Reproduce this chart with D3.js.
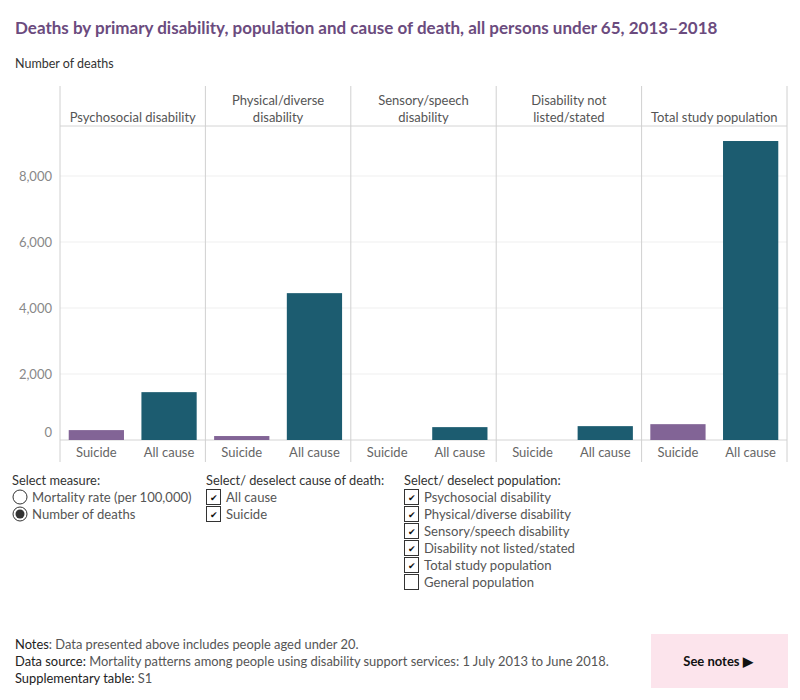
<!DOCTYPE html>
<html><head><meta charset="utf-8">
<script src="https://cdn.jsdelivr.net/npm/d3@7"></script>
<style>
body{margin:0;background:#fff;}
svg text{font-family:Lato, "Open Sans", sans-serif;}
</style></head>
<body><svg id="c" width="800" height="700"></svg>
<script>
const panels = ["Psychosocial disability","Physical/diverse disability","Sensory/speech disability","Disability not listed/stated","Total study population"];
const panelHeaderLines = [["Psychosocial disability"],["Physical/diverse","disability"],["Sensory/speech","disability"],["Disability not","listed/stated"],["Total study population"]];
const causes = ["Suicide","All cause"];
const suicideDeaths = [300, 120, 0, 0, 480];
const allCauseDeaths = [1450, 4450, 390, 420, 9060];
const yTicks = [0, 2000, 4000, 6000, 8000];
const measureOptions = ["Mortality rate (per 100,000)","Number of deaths"];
const causeOptions = ["All cause","Suicide"];
const populationOptions = ["Psychosocial disability","Physical/diverse disability","Sensory/speech disability","Disability not listed/stated","Total study population","General population"];
const populationChecked = [true,true,true,true,true,false];

(function(){
const svg = d3.select("#c");
const purple = "#826496", teal = "#1c5c70";

svg.append("text").attr("x",15).attr("y",34).text("Deaths by primary disability, population and cause of death, all persons under 65, 2013\u20132018")
  .attr("fill","#6b4b7e").attr("font-weight","bold").attr("font-size",17);
svg.append("text").attr("x",15).attr("y",68).text("Number of deaths").attr("fill","#333").attr("font-size",12.5);

const pLeft=60, pRight=787, pTop=126, pBottom=440, headTop=86, labBottom=462;
const y = d3.scaleLinear().domain([0, 9515]).range([pBottom, pTop]);
const px = d3.scaleBand().domain(panels).range([pLeft,pRight]);
const cx = d3.scaleBand().domain(causes).range([0, px.bandwidth()]).paddingInner(0.24).paddingOuter(0.12);

svg.append("g").selectAll("line").data(yTicks.filter(d=>d>0)).join("line")
  .attr("x1",pLeft).attr("x2",pRight).attr("y1",d=>y(d)).attr("y2",d=>y(d))
  .attr("stroke","#efefef");
const yAxis = d3.axisLeft(y).tickValues(yTicks).tickFormat(d3.format(",")).tickSize(0).tickPadding(8);
const ya = svg.append("g").attr("transform",`translate(${pLeft},0)`).call(yAxis);
ya.select(".domain").remove();
ya.selectAll("text").attr("fill","#888").attr("font-size",13).attr("font-family","Lato, sans-serif")
  .attr("dy",d=>d===0?"-0.3em":"0.32em");

svg.append("line").attr("x1",pLeft).attr("x2",pRight).attr("y1",pTop).attr("y2",pTop).attr("stroke","#d4d4d4");
svg.append("line").attr("x1",pLeft).attr("x2",pRight).attr("y1",pBottom).attr("y2",pBottom).attr("stroke","#d4d4d4");
svg.append("g").selectAll("line").data(d3.range(panels.length+1)).join("line")
  .attr("x1",i=>i<panels.length?px(panels[i]):pRight).attr("x2",i=>i<panels.length?px(panels[i]):pRight)
  .attr("y1",headTop).attr("y2",labBottom).attr("stroke","#d0d0d0");

panels.forEach((p,i)=>{
  const lines = panelHeaderLines[i];
  const g = svg.append("text").attr("text-anchor","middle").attr("fill","#555").attr("font-size",13);
  lines.forEach((l,j)=>{
    g.append("tspan").attr("x",px(p)+px.bandwidth()/2).attr("y",122-(lines.length-1-j)*17).text(l);
  });
});

const rows = panels.map((p,i)=>({panel:p, vals:[{c:"Suicide",v:suicideDeaths[i]},{c:"All cause",v:allCauseDeaths[i]}]}));
const pg = svg.append("g").selectAll("g").data(rows).join("g").attr("transform",d=>`translate(${px(d.panel)},0)`);
pg.selectAll("rect").data(d=>d.vals.filter(v=>v.v>0)).join("rect")
  .attr("x",d=>cx(d.c)).attr("width",cx.bandwidth())
  .attr("y",d=>y(d.v)).attr("height",d=>pBottom-y(d.v))
  .attr("fill",d=>d.c==="Suicide"?purple:teal);
pg.selectAll("text").data(causes).join("text")
  .attr("x",d=>cx(d)+cx.bandwidth()/2).attr("y",457).attr("text-anchor","middle")
  .attr("fill","#666").attr("font-size",13).text(d=>d);

const ctl = (x,yy,t)=>svg.append("text").attr("x",x).attr("y",yy).attr("fill","#333").attr("font-size",12.8).text(t);
ctl(12,485,"Select measure:");
ctl(206,485,"Select/ deselect cause of death:");
ctl(404,485,"Select/ deselect population:");
measureOptions.forEach((m,i)=>{
  const yy = 497+i*17;
  svg.append("circle").attr("cx",20).attr("cy",yy).attr("r",7).attr("fill","#fff").attr("stroke","#333").attr("stroke-width",1);
  if(i===1) svg.append("circle").attr("cx",20).attr("cy",yy).attr("r",4.5).attr("fill","#333");
  svg.append("text").attr("x",32).attr("y",yy+4.5).attr("fill","#555").attr("font-size",13.1).text(m);
});
function checkbox(x,yy,checked,label){
  svg.append("rect").attr("x",x+0.5).attr("y",yy-7.5).attr("width",14).attr("height",15).attr("fill","#fff").attr("stroke","#333");
  if(checked) svg.append("text").attr("x",x+7.5).attr("y",yy+3.5).attr("text-anchor","middle").attr("font-size",9).attr("fill","#111").text("\u2714");
  svg.append("text").attr("x",x+20).attr("y",yy+4.5).attr("fill","#555").attr("font-size",13.1).text(label);
}
causeOptions.forEach((c,i)=>checkbox(206,497+i*17,true,c));
populationOptions.forEach((p,i)=>checkbox(404,497+i*17,populationChecked[i],p));

const notes = [["Notes",": Data presented above includes people aged under 20."],["Data source:"," Mortality patterns among people using disability support services: 1 July 2013 to June 2018."],["Supplementary table:"," S1"]];
notes.forEach((n,i)=>{
  const t = svg.append("text").attr("x",15).attr("y",649+i*17).attr("font-size",12.9);
  t.append("tspan").attr("fill","#222").text(n[0]);
  t.append("tspan").attr("fill","#555").text(n[1]);
});
svg.append("rect").attr("x",651).attr("y",634).attr("width",137).attr("height",54).attr("fill","#fce4ec");
svg.append("text").attr("x",718).attr("y",666).attr("text-anchor","middle").attr("font-weight","bold").attr("font-size",13).attr("fill","#111").text("See notes \u25B6");
})();
</script></body></html>
